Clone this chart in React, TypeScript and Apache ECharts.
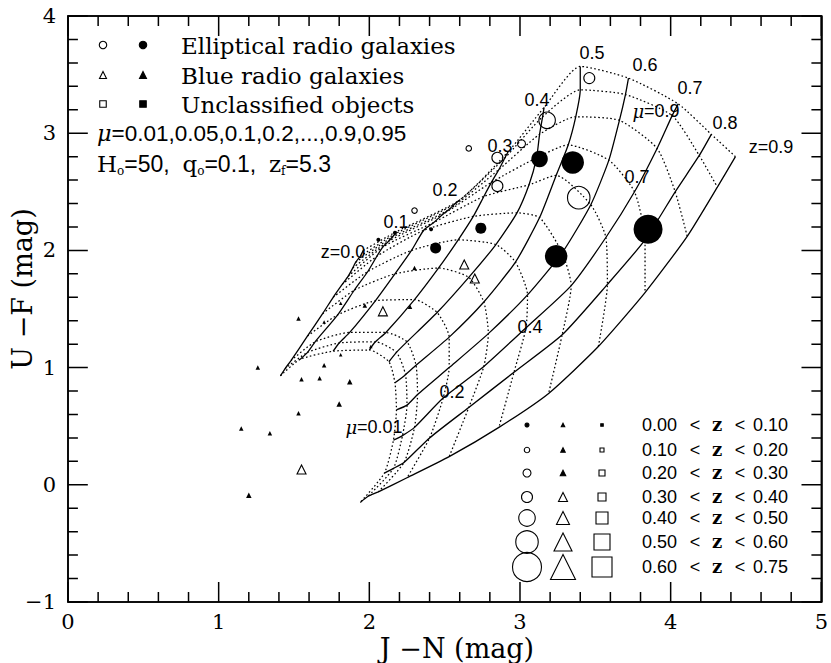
import { useEffect, useRef } from "react";
import * as echarts from "echarts";

const SERIF = '"DejaVu Serif", serif';
const SANS = '"Liberation Sans", Arial, sans-serif';

// model grid: mu values along each constant-z track, z values of the tracks
const MU_VALUES = [0.01, 0.05, 0.1, 0.2, 0.3, 0.4, 0.5, 0.6, 0.7, 0.8, 0.9, 0.95];
const Z_VALUES = [0.0, 0.1, 0.2, 0.3, 0.4, 0.5, 0.6, 0.7, 0.8, 0.9];

// constant-z tracks, one [J-N, U-F] point per mu (0.01 ... 0.95)
const trackZ00 = [[1.41, 0.93], [1.44, 0.99], [1.48, 1.06], [1.59, 1.27], [1.69, 1.46], [1.76, 1.6], [1.82, 1.71], [1.86, 1.78], [1.89, 1.85], [1.91, 1.9], [1.94, 1.95], [1.96, 2.0]];
const trackZ01 = [[1.54, 1.07], [1.59, 1.13], [1.64, 1.22], [1.79, 1.45], [1.9, 1.66], [1.99, 1.82], [2.05, 1.95], [2.09, 2.03], [2.13, 2.08], [2.15, 2.11], [2.17, 2.14], [2.18, 2.16]];
const trackZ02 = [[1.76, 1.14], [1.8, 1.21], [1.87, 1.3], [2.04, 1.57], [2.17, 1.8], [2.28, 2.0], [2.36, 2.17], [2.43, 2.24], [2.49, 2.31], [2.53, 2.35], [2.57, 2.4], [2.6, 2.43]];
const trackZ03 = [[2.0, 1.15], [2.04, 1.22], [2.11, 1.3], [2.3, 1.58], [2.46, 1.85], [2.59, 2.09], [2.69, 2.29], [2.76, 2.46], [2.81, 2.58], [2.86, 2.69], [2.9, 2.79], [2.92, 2.84]];
const trackZ04 = [[2.13, 1.05], [2.18, 1.13], [2.25, 1.22], [2.45, 1.47], [2.66, 1.77], [2.84, 2.05], [2.98, 2.32], [3.06, 2.56], [3.11, 2.79], [3.13, 2.99], [3.15, 3.14], [3.16, 3.22]];
const trackZ05 = [[2.17, 0.87], [2.24, 0.94], [2.31, 1.02], [2.53, 1.26], [2.76, 1.56], [2.97, 1.9], [3.13, 2.28], [3.24, 2.64], [3.32, 2.9], [3.37, 3.14], [3.4, 3.37], [3.4, 3.57]];
const trackZ06 = [[2.18, 0.64], [2.25, 0.68], [2.32, 0.77], [2.53, 1.0], [2.79, 1.29], [3.05, 1.62], [3.28, 1.98], [3.47, 2.39], [3.59, 2.77], [3.66, 3.11], [3.7, 3.33], [3.72, 3.47]];
const trackZ07 = [[2.16, 0.38], [2.22, 0.42], [2.3, 0.49], [2.49, 0.74], [2.76, 1.01], [3.04, 1.34], [3.34, 1.7], [3.57, 2.11], [3.76, 2.5], [3.91, 2.87], [4.01, 3.15], [4.05, 3.25]];
const trackZ08 = [[2.1, 0.1], [2.16, 0.14], [2.23, 0.19], [2.4, 0.4], [2.66, 0.66], [2.96, 0.96], [3.28, 1.28], [3.58, 1.71], [3.83, 2.09], [4.03, 2.5], [4.19, 2.81], [4.27, 2.99]];
const trackZ09 = [[1.94, -0.15], [1.99, -0.1], [2.06, -0.06], [2.25, 0.06], [2.53, 0.24], [2.86, 0.49], [3.19, 0.78], [3.52, 1.18], [3.83, 1.64], [4.11, 2.12], [4.31, 2.54], [4.43, 2.8]];

// galaxies: [J-N, U-F, redshift]
const ellipticalFilled = [[3.13, 2.78, 0.45], [3.35, 2.75, 0.55], [3.85, 2.18, 0.65], [3.24, 1.95, 0.55], [2.74, 2.19, 0.35], [2.44, 2.02, 0.35], [2.06, 2.09, 0.05], [2.17, 2.15, 0.05], [2.41, 2.18, 0.05]];
const ellipticalOpen = [[3.46, 3.47, 0.35], [3.18, 3.11, 0.45], [3.01, 2.91, 0.25], [2.85, 2.79, 0.35], [2.85, 2.55, 0.35], [3.39, 2.45, 0.55], [2.66, 2.87, 0.15], [2.3, 2.34, 0.15]];
const blueOpen = [[2.63, 1.88, 0.35], [2.7, 1.76, 0.35], [2.09, 1.48, 0.35], [1.55, 0.13, 0.35]];
const blueFilled = [[2.3, 1.85, 0.15], [1.97, 1.53, 0.15], [1.81, 1.55, 0.05], [2.27, 1.52, 0.15], [1.53, 1.42, 0.15], [1.7, 1.39, 0.05], [2.01, 1.18, 0.05], [1.81, 1.11, 0.05], [1.7, 1.02, 0.15], [1.26, 1.0, 0.15], [1.55, 0.9, 0.15], [1.67, 0.91, 0.15], [1.87, 0.88, 0.25], [1.8, 0.69, 0.25], [1.53, 0.61, 0.15], [1.15, 0.48, 0.15], [1.34, 0.44, 0.15], [1.2, -0.09, 0.25]];

// redshift bins of the symbol-size key
const Z_BIN_EDGES = ["0.00", "0.10", "0.20", "0.30", "0.40", "0.50", "0.60", "0.75"];
const X_TICKS = [0, 1, 2, 3, 4, 5];
const Y_TICKS = [-1, 0, 1, 2, 3, 4];
const MINOR_PER_MAJOR = 5;

const CIRCLE_SIZES = [4, 5.5, 8, 11, 16.5, 22.5, 29];
const TRI_SIZES = [3.5, 4.5, 5.5, 9, 13, 18, 25];
const SQUARE_SIZES = [2.5, 4, 6, 8, 12, 16, 20];

const GRID = { left: 68, right: 3, top: 16, bottom: 61 };
const W = 831;
const H = 663;
const MAJOR_LEN = 20;
const MINOR_LEN = 10;

function binIndex(z: number) {
  for (let i = Z_BIN_EDGES.length - 2; i >= 0; i--) {
    if (z >= parseFloat(Z_BIN_EDGES[i])) return i;
  }
  return 0;
}

const BLACK = "#000";

function txt(x: number, y: number, text: string, font: string, align = "center", extra: any = {}) {
  return {
    type: "text",
    x,
    y,
    z: 10,
    style: { text, font, fill: BLACK, align, verticalAlign: "middle", ...extra },
  };
}

function symbolGraphic(kind: string, cx: number, cy: number, s: number, filled: boolean) {
  const style = { fill: filled ? BLACK : "none", stroke: BLACK, lineWidth: 1.1 };
  if (kind === "circle") return { type: "circle", shape: { cx, cy, r: s / 2 }, style, z: 10 };
  if (kind === "tri")
    return {
      type: "polygon",
      shape: { points: [[cx, cy - s / 2], [cx - s / 2, cy + s / 2], [cx + s / 2, cy + s / 2]] },
      style,
      z: 10,
    };
  return { type: "rect", shape: { x: cx - s / 2, y: cy - s / 2, width: s, height: s }, style, z: 10 };
}

function isMajor(v: number) {
  return Math.abs(v - Math.round(v)) < 1e-6;
}

export default function App() {
  const ref = useRef<HTMLDivElement>(null);

  useEffect(() => {
    if (!ref.current) return;
    const chart = echarts.init(ref.current, undefined, { renderer: "svg" });
    const tracks = [trackZ00, trackZ01, trackZ02, trackZ03, trackZ04, trackZ05, trackZ06, trackZ07, trackZ08, trackZ09];

    const xMin = X_TICKS[0];
    const xMax = X_TICKS[X_TICKS.length - 1];
    const yMin = Y_TICKS[0];
    const yMax = Y_TICKS[Y_TICKS.length - 1];

    const solidSeries = tracks.map((t, j) => ({
      type: "line",
      name: "z=" + Z_VALUES[j].toFixed(1),
      data: t,
      symbol: "none",
      smooth: 0.2,
      silent: true,
      z: 2,
      lineStyle: { color: BLACK, width: 1.3 },
    }));
    const dottedSeries = MU_VALUES.map((mu, i) => ({
      type: "line",
      name: "mu=" + mu,
      data: tracks.map((t) => t[i]),
      symbol: "none",
      smooth: 0.2,
      silent: true,
      z: 1,
      lineStyle: { color: BLACK, width: 1.25, type: [1.6, 2.4] },
    }));

    // inward tick marks on all four frame sides, drawn as comb-shaped polylines
    const plotW = W - GRID.left - GRID.right;
    const plotH = H - GRID.top - GRID.bottom;
    const xPerPx = (xMax - xMin) / plotW;
    const yPerPx = (yMax - yMin) / plotH;
    const xTickVals: number[] = [];
    for (let k = 0; k <= (xMax - xMin) * MINOR_PER_MAJOR; k++) xTickVals.push(xMin + k / MINOR_PER_MAJOR);
    const yTickVals: number[] = [];
    for (let k = 0; k <= (yMax - yMin) * MINOR_PER_MAJOR; k++) yTickVals.push(yMin + k / MINOR_PER_MAJOR);
    const lenOf = (v: number) => (isMajor(v) ? MAJOR_LEN : MINOR_LEN);

    const bottomComb: number[][] = [];
    const topComb: number[][] = [];
    xTickVals.forEach((v) => {
      const dy = lenOf(v) * yPerPx;
      bottomComb.push([v, yMin], [v, yMin + dy], [v, yMin]);
      topComb.push([v, yMax], [v, yMax - dy], [v, yMax]);
    });
    const leftComb: number[][] = [];
    const rightComb: number[][] = [];
    yTickVals.forEach((v) => {
      const dx = lenOf(v) * xPerPx;
      leftComb.push([xMin, v], [xMin + dx, v], [xMin, v]);
      rightComb.push([xMax, v], [xMax - dx, v], [xMax, v]);
    });
    const combSeries = [bottomComb, topComb, leftComb, rightComb].map((d, i) => ({
      type: "line",
      name: "ticks" + i,
      data: d,
      symbol: "none",
      smooth: false,
      silent: true,
      clip: false,
      z: 6,
      lineStyle: { color: BLACK, width: 1.5 },
    }));

    const axisCommon = {
      type: "value",
      splitLine: { show: false },
      axisLine: { show: true, onZero: false, lineStyle: { color: BLACK, width: 1.6 } },
      axisTick: { show: false },
      minorTick: { show: false },
      minorSplitLine: { show: false },
    };
    const labelStyle = {
      show: true,
      color: BLACK,
      fontFamily: SERIF,
      fontSize: 21,
      formatter: (v: number) => String(v).replace("-", "\u2212"),
    };

    const graphics: any[] = [];
    // axis titles
    graphics.push(txt(457, 648, "J \u2212N (mag)", `27px ${SERIF}`));
    graphics.push({ ...txt(22, 289, "U \u2212F (mag)", `27px ${SERIF}`), rotation: Math.PI / 2 });

    // top-left key
    const keyRows = [
      { kind: "circle", y: 45, label: "Elliptical radio galaxies", s: 7.5 },
      { kind: "tri", y: 75, label: "Blue radio galaxies", s: 7 },
      { kind: "rect", y: 104, label: "Unclassified objects", s: 6.5 },
    ];
    keyRows.forEach((r) => {
      graphics.push(symbolGraphic(r.kind, 103, r.y, r.s, false));
      graphics.push(symbolGraphic(r.kind, 143, r.y, r.s, true));
      graphics.push(txt(181, r.y + 1, r.label, `23px ${SERIF}`, "left"));
    });
    graphics.push({
      type: "text",
      x: 97,
      y: 133,
      z: 10,
      style: {
        text: "{m|\u03bc}{n|=" + MU_VALUES.slice(0, 4).join(",") + ",...," + MU_VALUES.slice(10).join(",") + "}",
        align: "left",
        verticalAlign: "middle",
        rich: {
          m: { fontFamily: SERIF, fontStyle: "italic", fontSize: 22.5, fill: BLACK },
          n: { fontFamily: SANS, fontSize: 22.5, fill: BLACK },
        },
      },
    });
    graphics.push({
      type: "text",
      x: 97,
      y: 164,
      z: 10,
      style: {
        text: "{s|H}{b|o}{n|=50,  }{s|q}{b|o}{n|=0.1,  }{s|z}{b|f}{n|=5.3}",
        align: "left",
        verticalAlign: "middle",
        rich: {
          s: { fontFamily: SERIF, fontSize: 23, fill: BLACK, lineHeight: 26 },
          n: { fontFamily: SANS, fontSize: 23, fill: BLACK, lineHeight: 26 },
          b: { fontFamily: SERIF, fontSize: 12, fill: BLACK, verticalAlign: "bottom", lineHeight: 14 },
        },
      },
    });

    // grid annotations
    const ann: [number, number, string][] = [
      [343, 252, "z=0.0"], [396, 222, "0.1"], [445, 190, "0.2"], [500, 146, "0.3"], [537, 100, "0.4"],
      [592, 53, "0.5"], [645, 65, "0.6"], [690, 88, "0.7"], [725, 123, "0.8"], [771, 147, "z=0.9"],
      [637, 177, "0.7"], [530, 327, "0.4"], [452, 392, "0.2"],
    ];
    ann.forEach(([x, y, t]) => graphics.push(txt(x, y, t, `18px ${SANS}`)));
    graphics.push({
      type: "text", x: 656, y: 111, z: 10,
      style: {
        text: "{m|\u03bc}{n|=0.9}", align: "center", verticalAlign: "middle",
        rich: { m: { fontFamily: SERIF, fontStyle: "italic", fontSize: 18 }, n: { fontFamily: SANS, fontSize: 18 } },
      },
    });
    graphics.push({
      type: "text", x: 374, y: 427, z: 10,
      style: {
        text: "{m|\u03bc}{n|=0.01}", align: "center", verticalAlign: "middle",
        rich: { m: { fontFamily: SERIF, fontStyle: "italic", fontSize: 18 }, n: { fontFamily: SANS, fontSize: 18 } },
      },
    });

    // redshift size key
    const rowY = [425, 450, 473, 497, 518, 542, 567];
    for (let r = 0; r < 7; r++) {
      const y = rowY[r];
      graphics.push(symbolGraphic("circle", 527, y, CIRCLE_SIZES[r], r === 0));
      graphics.push(symbolGraphic("tri", 563, y, TRI_SIZES[r], r < 3));
      graphics.push(symbolGraphic("rect", 602, y, SQUARE_SIZES[r], r === 0));
      graphics.push(txt(642, y, Z_BIN_EDGES[r], `18px ${SANS}`, "left"));
      graphics.push(txt(695, y, "<", `18px ${SANS}`));
      graphics.push(txt(717, y - 1, "z", `bold 18px ${SERIF}`));
      graphics.push(txt(740, y, "<", `18px ${SANS}`));
      graphics.push(txt(753, y, Z_BIN_EDGES[r + 1], `18px ${SANS}`, "left"));
    }

    const option: any = {
      animation: false,
      backgroundColor: "#fff",
      grid: { ...GRID, containLabel: false },
      xAxis: [
        { ...axisCommon, position: "bottom", min: xMin, max: xMax, interval: 1, axisLabel: { ...labelStyle, margin: 9 } },
        { ...axisCommon, position: "top", min: xMin, max: xMax, interval: 1, axisLabel: { show: false } },
      ],
      yAxis: [
        { ...axisCommon, position: "left", min: yMin, max: yMax, interval: 1, axisLabel: { ...labelStyle, margin: 12 } },
        { ...axisCommon, position: "right", min: yMin, max: yMax, interval: 1, axisLabel: { show: false } },
      ],
      series: [
        ...dottedSeries,
        ...solidSeries,
        {
          type: "scatter", name: "Elliptical (filled)", data: ellipticalFilled, symbol: "circle", z: 3,
          symbolSize: (v: number[]) => CIRCLE_SIZES[binIndex(v[2])],
          itemStyle: { color: BLACK, opacity: 1 },
        },
        {
          type: "scatter", name: "Elliptical (open)", data: ellipticalOpen, symbol: "circle", z: 3,
          symbolSize: (v: number[]) => CIRCLE_SIZES[binIndex(v[2])],
          itemStyle: { color: "rgba(0,0,0,0)", borderColor: BLACK, borderWidth: 1.1, opacity: 1 },
        },
        {
          type: "scatter", name: "Blue (filled)", data: blueFilled, symbol: "triangle", z: 3,
          symbolSize: (v: number[]) => TRI_SIZES[binIndex(v[2])],
          itemStyle: { color: BLACK, opacity: 1 },
        },
        {
          type: "scatter", name: "Blue (open)", data: blueOpen, symbol: "triangle", z: 3,
          symbolSize: (v: number[]) => TRI_SIZES[binIndex(v[2])],
          itemStyle: { color: "rgba(0,0,0,0)", borderColor: BLACK, borderWidth: 1.1, opacity: 1 },
        },
        ...combSeries,
      ],
      graphic: { elements: graphics },
    };
    chart.setOption(option);

    return () => chart.dispose();
  }, []);

  return (
    <div
      ref={ref}
      style={{ position: "fixed", left: 0, top: 0, width: W, height: H, background: "#fff" }}
    />
  );
}
